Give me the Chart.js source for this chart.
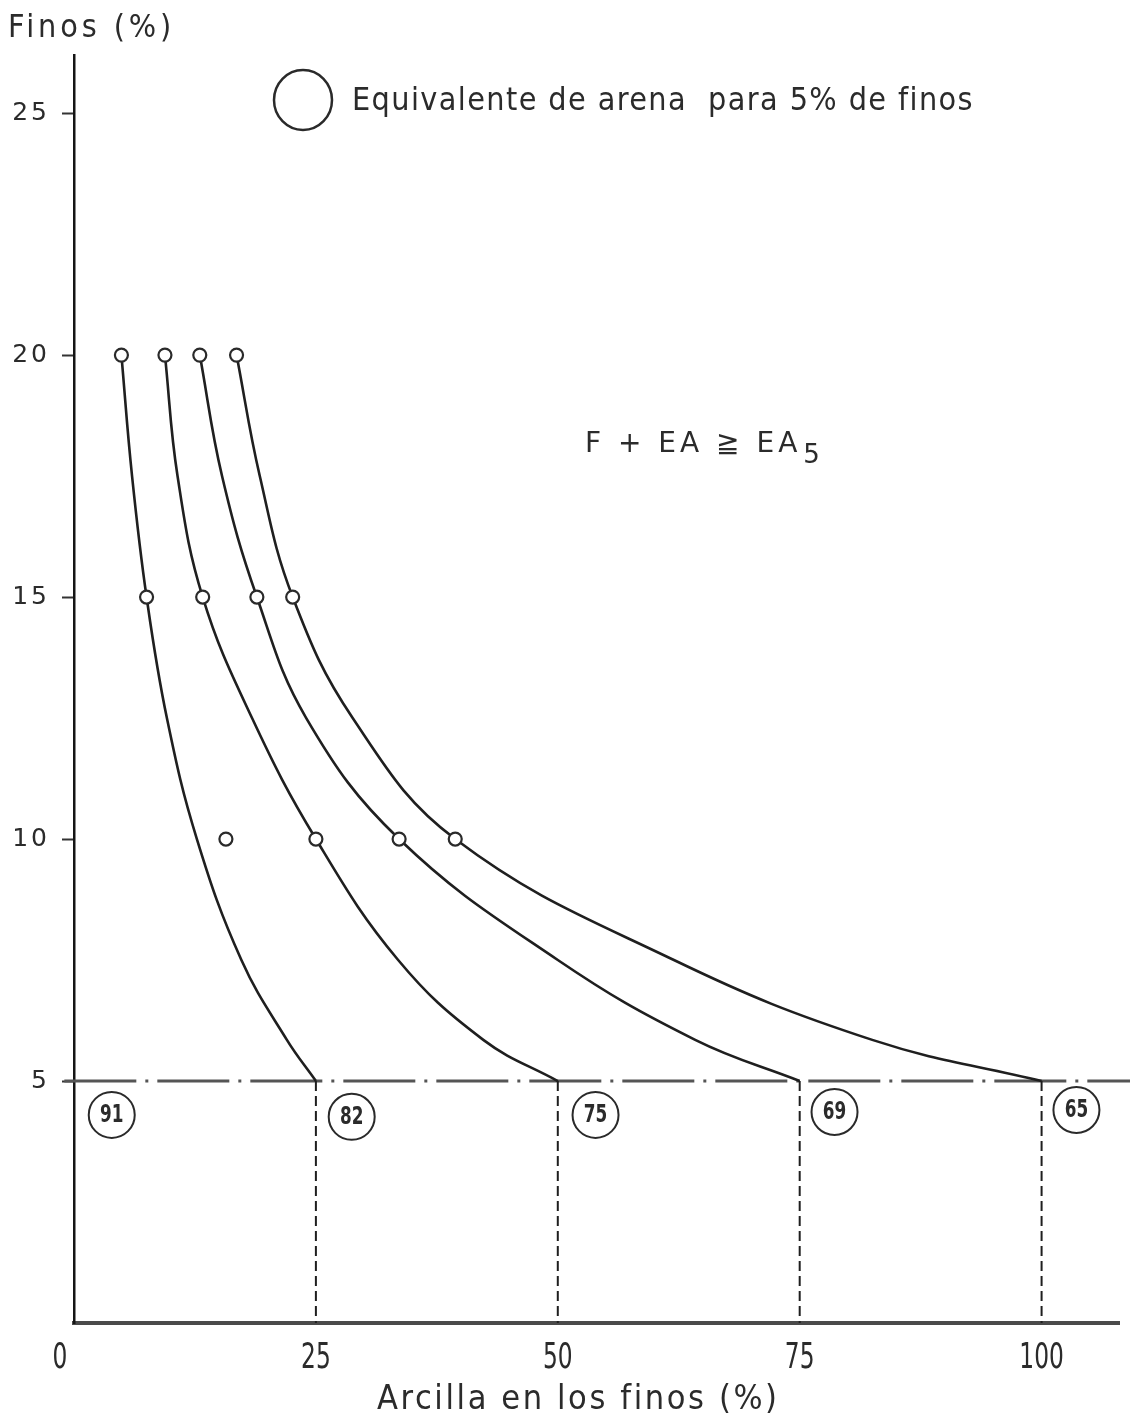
<!DOCTYPE html>
<html>
<head>
<meta charset="utf-8">
<script src="https://cdn.jsdelivr.net/npm/chart.js@4.4.1/dist/chart.umd.min.js"></script>
<style>
  html, body { margin: 0; padding: 0; background: #ffffff; }
  canvas { display: block; }
</style>
</head>
<body>
<canvas id="chart" width="1130" height="1417"></canvas>
<script>
// Fines content (%) against clay in the fines (%): lines of equal sand equivalent
const xTickValues = [0, 25, 50, 75, 100];
const yTickValues = [5, 10, 15, 20, 25];

// fines levels at which each curve was read
const finesLevels = [20, 17.5, 15, 12.5, 10, 7.5, 5.85, 5];
// clay in fines (%) of each curve at those fines levels
const curveEA82 = [4.9, 6.0, 7.5, 9.6, 12.7, 17.3, 22.0, 25];
const curveEA75 = [9.4, 10.7, 13.3, 18.4, 25.0, 33.5, 42.3, 50];
const curveEA69 = [13.0, 15.3, 18.9, 24.0, 33.6, 50.0, 64.2, 75];
const curveEA65 = [16.8, 19.2, 22.6, 28.8, 39.4, 62.0, 82.5, 100];

// test points (open circles)
const markersAt20 = [4.9, 9.4, 13.0, 16.8];
const markersAt15 = [7.5, 13.3, 18.9, 22.6];
const markersAt10 = [15.7, 25.0, 33.6, 39.4];

// sand equivalent for 5 % fines, written in circles under the 5 % line
const ea5Values = [91, 82, 75, 69, 65];
const ea5LabelX = [3.9, 28.7, 53.9, 78.6, 103.6];
const ea5LabelY = [4.30, 4.26, 4.30, 4.36, 4.40];

// clay content where each curve reaches 5 % fines
const clayAtFivePct = [25, 50, 75, 100];
const baseFines = 5;
const xRange = [0, 108];
const yRange = [0, 26.2];

const INK = '#1f1f1f';
const TEXT = '#2b2b2b';
const COND = "'DejaVu Sans Condensed', 'DejaVu Sans', sans-serif";
const SANS = "'DejaVu Sans', sans-serif";

function curveDataset(xs) {
  return {
    data: xs.map((x, i) => ({ x: x, y: finesLevels[i] })),
    showLine: true,
    borderColor: INK,
    borderWidth: 2.6,
    pointRadius: 0,
    pointHoverRadius: 0,
    tension: 0.4,
    order: 2
  };
}

const markerPoints = []
  .concat(markersAt20.map(x => ({ x: x, y: 20 })))
  .concat(markersAt15.map(x => ({ x: x, y: 15 })))
  .concat(markersAt10.map(x => ({ x: x, y: 10 })));

const datasets = [
  curveDataset(curveEA82),
  curveDataset(curveEA75),
  curveDataset(curveEA69),
  curveDataset(curveEA65),
  {
    // reference line at 5 % fines (dash-dot)
    data: [{ x: xRange[0] - 1, y: baseFines }, { x: xRange[1] + 1.2, y: baseFines }],
    showLine: true,
    borderColor: '#555555',
    borderWidth: 3,
    borderDash: [72, 9, 3, 9],
    pointRadius: 0,
    pointHoverRadius: 0,
    clip: false,
    order: 4
  }
].concat(clayAtFivePct.map(x => ({
  data: [{ x: x, y: baseFines }, { x: x, y: 0 }],
  showLine: true,
  borderColor: INK,
  borderWidth: 2,
  borderDash: [10, 5],
  pointRadius: 0,
  pointHoverRadius: 0,
  order: 3
}))).concat([
  {
    data: markerPoints,
    showLine: false,
    pointRadius: 6.5,
    pointBorderWidth: 2.2,
    pointBackgroundColor: '#ffffff',
    pointBorderColor: '#2a2a2a',
    order: 0
  },
  {
    label: 'ea5',
    data: ea5LabelX.map((x, i) => ({ x: x, y: ea5LabelY[i] })),
    showLine: false,
    pointRadius: 23,
    pointBorderWidth: 2,
    pointBackgroundColor: '#ffffff',
    pointBorderColor: '#2a2a2a',
    order: 1
  }
]);

// text helper: optional horizontal squeeze and letter spacing
function drawText(ctx, text, x, y, o) {
  const sx = o.sx || 1;
  ctx.save();
  ctx.translate(x, y);
  ctx.scale(sx, 1);
  ctx.font = (o.weight ? o.weight + ' ' : '') + o.size + 'px ' + o.family;
  ctx.letterSpacing = ((o.spacing || 0) / sx) + 'px';
  ctx.textAlign = 'left';
  ctx.textBaseline = o.baseline || 'alphabetic';
  const w = ctx.measureText(text).width - (o.spacing || 0) / sx;
  let x0 = 0;
  if (o.align === 'center') x0 = -w / 2;
  else if (o.align === 'right') x0 = -w;
  ctx.fillStyle = o.color || TEXT;
  ctx.fillText(text, x0, 0);
  ctx.restore();
  return w * sx;
}

const annotations = {
  id: 'annotations',
  beforeDraw(chart) {
    // wide spacing for the y tick numbers
    chart.ctx.letterSpacing = '3px';
  },
  beforeDatasetsDraw(chart) {
    chart.ctx.letterSpacing = '0px';
  },
  afterDatasetsDraw(chart) {
    const ctx = chart.ctx;
    // numbers inside the EA5 circles
    const idx = chart.data.datasets.findIndex(d => d.label === 'ea5');
    const meta = chart.getDatasetMeta(idx);
    meta.data.forEach((pt, i) => {
      drawText(ctx, String(ea5Values[i]), pt.x, pt.y + 1,
        { size: 24, family: COND, sx: 0.78, align: 'center', baseline: 'middle', weight: 'bold' });
    });
  },
  afterDraw(chart) {
    const ctx = chart.ctx;
    const xs = chart.scales.x;

    // x tick numbers (tall, narrow digits)
    xTickValues.forEach(v => {
      const px = xs.getPixelForValue(v) + (v === 0 ? -14 : 0);
      drawText(ctx, String(v), px, 1368, { size: 36, family: COND, sx: 0.72, align: 'center' });
    });

    // y-axis title
    drawText(ctx, 'Finos (%)', 8, 37, { size: 32, family: COND, spacing: 3.9 });

    // legend: circle = sand equivalent for 5 % fines
    ctx.save();
    ctx.beginPath();
    ctx.lineWidth = 2.5;
    ctx.strokeStyle = '#2a2a2a';
    ctx.ellipse(303, 100, 29, 30, 0, 0, Math.PI * 2);
    ctx.stroke();
    ctx.restore();
    drawText(ctx, 'Equivalente de arena  para 5% de finos', 352, 110,
      { size: 32, family: COND, spacing: 1.4 });

    // criterion
    const w = drawText(ctx, 'F + EA ≧ EA', 585, 452, { size: 28, family: SANS, spacing: 4 });
    drawText(ctx, '5', 585 + w + 6, 463, { size: 26, family: SANS });

    // x-axis title
    drawText(ctx, 'Arcilla en los finos (%)', 577, 1409,
      { size: 34, family: COND, spacing: 2.6, align: 'center' });
  }
};

new Chart(document.getElementById('chart'), {
  type: 'scatter',
  data: { datasets: datasets },
  plugins: [annotations],
  options: {
    responsive: false,
    animation: false,
    events: [],
    layout: { autoPadding: false, padding: { top: 55, right: 11, left: 0, bottom: 0 } },
    plugins: {
      legend: { display: false },
      tooltip: { enabled: false },
      title: { display: false }
    },
    scales: {
      x: {
        type: 'linear',
        min: xRange[0],
        max: xRange[1],
        afterBuildTicks(scale) { scale.ticks = xTickValues.map(v => ({ value: v })); },
        afterFit(scale) {
          scale.height = 94;
          scale.paddingLeft = 0;
          scale.paddingRight = 0;
        },
        grid: { display: false, drawTicks: false },
        border: { display: true, color: '#4a4a4a', width: 4 },
        ticks: { display: false }
      },
      y: {
        type: 'linear',
        min: yRange[0],
        max: yRange[1],
        afterBuildTicks(scale) { scale.ticks = yTickValues.map(v => ({ value: v })); },
        afterFit(scale) {
          scale.width = 74;
          scale.paddingTop = 0;
          scale.paddingBottom = 0;
        },
        grid: {
          display: true,
          drawOnChartArea: false,
          drawTicks: true,
          tickLength: 12,
          tickColor: '#333333',
          tickWidth: 2
        },
        border: { display: true, color: '#151515', width: 2.5 },
        ticks: {
          padding: 12,
          color: TEXT,
          autoSkip: false,
          font: { family: SANS, size: 25 }
        }
      }
    }
  }
});
</script>
</body>
</html>
